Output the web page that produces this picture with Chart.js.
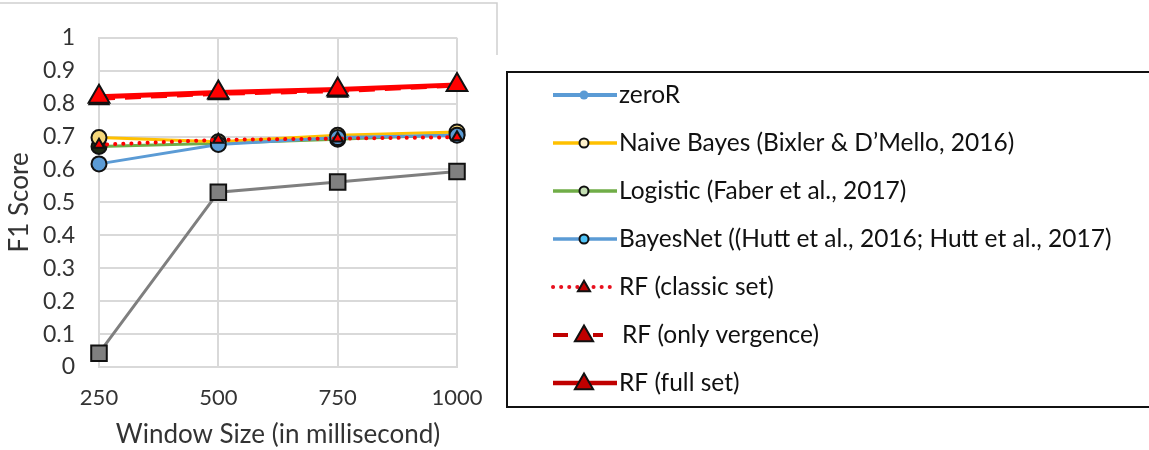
<!DOCTYPE html>
<html><head><meta charset="utf-8">
<script src="https://cdn.jsdelivr.net/npm/chart.js@4/dist/chart.umd.min.js"></script>
<style>html,body{margin:0;padding:0;background:#fff;} #wrap{width:1149px;height:450px;position:relative;}</style>
</head><body><div id="wrap"><canvas id="c" width="1149" height="450"></canvas></div>
<script>
// ---- data ----
const windowSizes = ['250', '500', '750', '1000'];
const yTickLabels = ['0', '0.1', '0.2', '0.3', '0.4', '0.5', '0.6', '0.7', '0.8', '0.9', '1'];
const seriesNames = [
  'zeroR',
  'Naive Bayes (Bixler & D\u2019Mello, 2016)',
  'Logistic (Faber et al., 2017)',
  'BayesNet ((Hutt et al., 2016; Hutt et al., 2017)',
  'RF (classic set)',
  'RF (only vergence)',
  'RF (full set)'
];
const zeroR = [0.042, 0.531, 0.562, 0.594];
const naiveBayes = [0.697, 0.684, 0.704, 0.714];
const logistic = [0.670, 0.680, 0.692, 0.706];
const bayesNet = [0.617, 0.676, 0.697, 0.704];
const rfClassic = [0.675, 0.690, 0.694, 0.698];
const rfVergence = [0.815, 0.830, 0.838, 0.855];
const rfFull = [0.821, 0.834, 0.843, 0.857];

const FONT = "Lato, 'Open Sans', 'Liberation Sans', sans-serif";
const TXT = '#333333';

// legend sample styles (line colour, dash, marker)
const legendStyles = [
  {color: '#5B9BD5', dash: [], width: 4, end: 617, marker: 'dot', fill: '#5B9BD5', r: 4.5},
  {color: '#FFC000', dash: [], width: 3.5, end: 617, marker: 'circle', fill: '#FFF2CC', r: 4.5},
  {color: '#70AD47', dash: [], width: 3.5, end: 617, marker: 'circle', fill: '#C5E0B4', r: 4.5},
  {color: '#5B9BD5', dash: [], width: 3.5, end: 617, marker: 'circle', fill: '#4FC3F7', r: 4.5},
  {color: '#E8101E', dash: [0.1, 8], width: 4, end: 617, marker: 'triangle', fill: '#C00000', r: 7},
  {color: '#C00000', dash: [15, 25], width: 4, end: 603, marker: 'triangle', fill: '#C00000', r: 10.5},
  {color: '#C00000', dash: [], width: 4.5, end: 617, marker: 'triangle', fill: '#C00000', r: 10.5}
];

const sideLegend = {
  id: 'sideLegend',
  afterDraw(chart) {
    const ctx = chart.ctx;
    ctx.save();
    const bx = 507, by = 72, bw = 700, bh = 335;
    ctx.strokeStyle = '#111';
    ctx.lineWidth = 2;
    ctx.strokeRect(bx, by, bw, bh);
    ctx.font = "24.5px " + FONT;
    ctx.textBaseline = 'middle';
    ctx.textAlign = 'left';
    for (let i = 0; i < seriesNames.length; i++) {
      const s = legendStyles[i];
      const y = 95 + i * 48;
      const x0 = 553, x1 = s.end, xm = 584;
      ctx.strokeStyle = s.color;
      ctx.lineWidth = s.width;
      ctx.setLineDash(s.dash);
      ctx.lineCap = s.dash.length && s.dash[0] < 1 ? 'round' : 'butt';
      ctx.beginPath(); ctx.moveTo(x0, y); ctx.lineTo(x1, y); ctx.stroke();
      ctx.setLineDash([]);
      ctx.lineCap = 'butt';
      ctx.fillStyle = s.fill;
      ctx.strokeStyle = '#111';
      ctx.lineWidth = 2;
      ctx.beginPath();
      if (s.marker === 'dot') {
        ctx.arc(xm, y, s.r, 0, Math.PI * 2); ctx.fill();
      } else if (s.marker === 'circle') {
        ctx.arc(xm, y, s.r, 0, Math.PI * 2); ctx.fill(); ctx.stroke();
      } else {
        const r = s.r;
        ctx.moveTo(xm, y - r * 0.9);
        ctx.lineTo(xm + r * 0.866, y + r * 0.6);
        ctx.lineTo(xm - r * 0.866, y + r * 0.6);
        ctx.closePath(); ctx.fill(); ctx.stroke();
      }
      ctx.fillStyle = '#111';
      ctx.fillText(seriesNames[i], i === 5 ? 622 : 619, y);
    }
    // thin frame remnants of the plot region
    ctx.strokeStyle = '#D0D0D0';
    ctx.lineWidth = 1.5;
    ctx.beginPath(); ctx.moveTo(0, 3); ctx.lineTo(497, 3); ctx.lineTo(497, 55); ctx.stroke();
    ctx.restore();
  }
};

const ds = (label, data, o) => Object.assign({
  label, data, fill: false, tension: 0, borderWidth: 3,
  pointBorderColor: '#111', pointBorderWidth: 2, clip: false
}, o);

new Chart(document.getElementById('c'), {
  type: 'line',
  data: {
    labels: windowSizes,
    datasets: [
      ds(seriesNames[0], zeroR, {borderColor: '#7F7F7F', pointStyle: 'rect', pointRadius: 11, pointBackgroundColor: '#808080', order: 7}),
      ds(seriesNames[2], logistic, {borderColor: '#70AD47', pointStyle: 'circle', pointRadius: 7.5, pointBackgroundColor: '#1F2A14', order: 6}),
      ds(seriesNames[1], naiveBayes, {borderColor: '#FFC000', pointStyle: 'circle', pointRadius: 7.5, pointBackgroundColor: '#F5D77A', order: 5}),
      ds(seriesNames[3], bayesNet, {borderColor: '#5B9BD5', pointStyle: 'circle', pointRadius: 7.5, pointBackgroundColor: '#5B9BD5', order: 4}),
      ds(seriesNames[4], rfClassic, {borderColor: '#FF0000', borderDash: [0.1, 8], borderCapStyle: 'round', borderWidth: 4, pointStyle: 'triangle', pointRadius: 6, pointBackgroundColor: '#FF0000', order: 3}),
      ds(seriesNames[5], rfVergence, {borderColor: '#FF0000', borderWidth: 4, borderDash: [16, 10], pointStyle: 'triangle', pointRadius: 11, pointBackgroundColor: '#FF0000', order: 2}),
      ds(seriesNames[6], rfFull, {borderColor: '#FF0000', borderWidth: 5, pointStyle: 'triangle', pointRadius: 12, pointBackgroundColor: '#FF0000', order: 1})
    ]
  },
  options: {
    responsive: false,
    devicePixelRatio: 1,
    animation: false,
    layout: {padding: {left: 0, top: 24, right: 692, bottom: 0}},
    plugins: {legend: {display: false}, tooltip: {enabled: false}, title: {display: false}},
    scales: {
      x: {
        type: 'category',
        offset: false,
        grid: {color: '#D9D9D9', lineWidth: 2, drawTicks: false},
        border: {color: '#D9D9D9', width: 2},
        ticks: {font: {family: FONT, size: 22}, color: TXT, padding: 18, maxRotation: 0},
        title: {display: true, text: 'Window Size (in millisecond)', font: {family: FONT, size: 26}, color: TXT, padding: {top: 0, bottom: 0}},
        afterFit(s) { s.height = 83; }
      },
      y: {
        min: 0, max: 1,
        grid: {color: '#D9D9D9', lineWidth: 2, drawTicks: false},
        border: {color: '#D9D9D9', width: 2},
        ticks: {stepSize: 0.1, font: {family: FONT, size: 23}, color: TXT, padding: 24,
          callback: (v, i) => yTickLabels[i]},
        title: {display: true, text: 'F1 Score', font: {family: FONT, size: 26}, color: TXT, padding: {top: 4, bottom: 0}},
        afterFit(s) { s.width = 99; }
      }
    }
  },
  plugins: [sideLegend]
});
</script>
</body></html>
